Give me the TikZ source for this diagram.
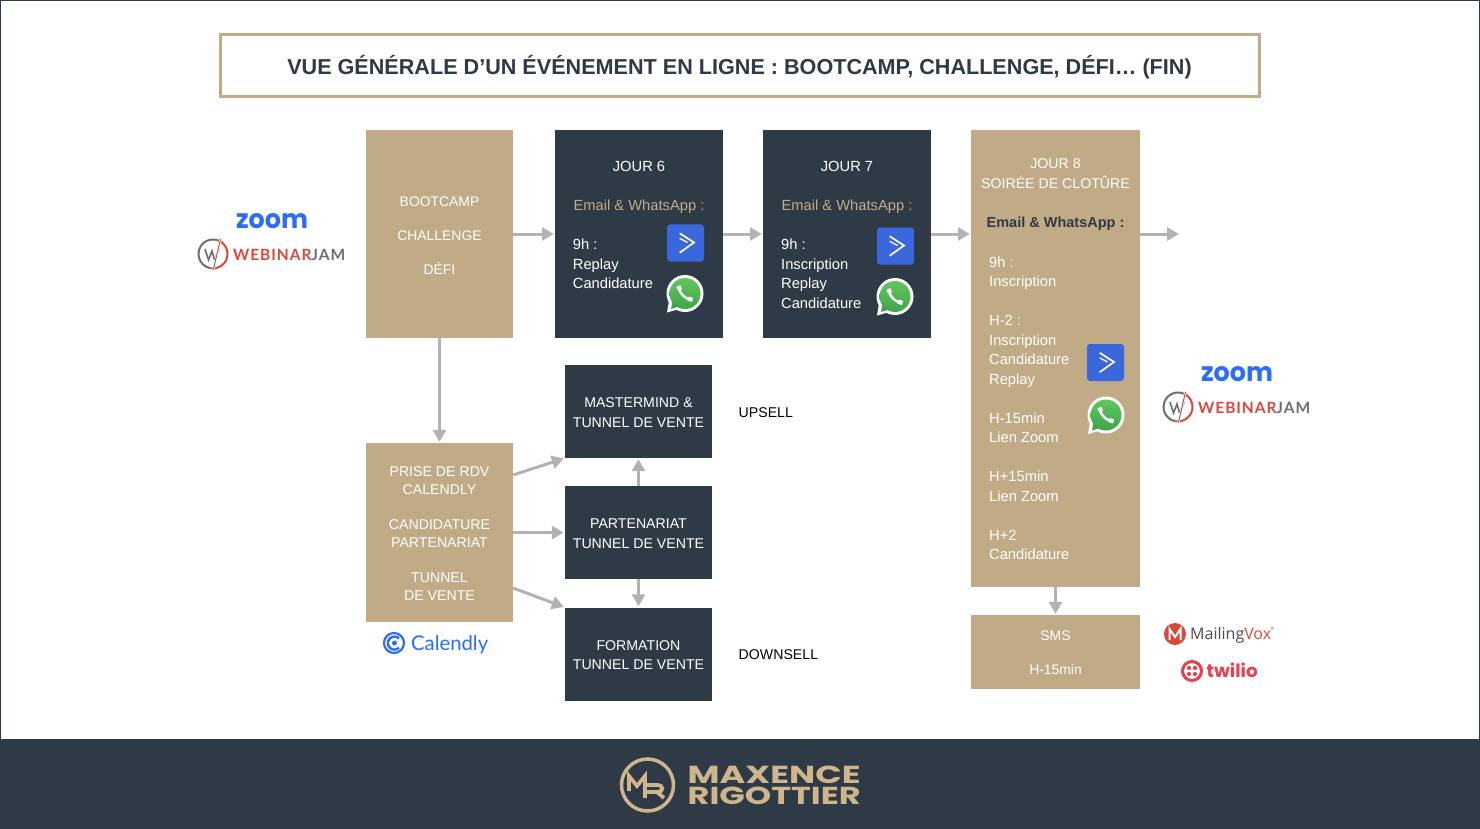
\documentclass[tikz,border=0pt]{standalone}
\usepackage{fontspec}
\setmainfont{Liberation Sans}
\newfontfamily\logofont{Poppins}
\newfontfamily\jamfont[LetterSpace=6]{Lato}
\newfontfamily\calfont{Lato}
\newfontfamily\voxfont{Open Sans}
\usetikzlibrary{arrows.meta}
\definecolor{tan}{HTML}{C1AB86}
\definecolor{footertan}{HTML}{CFB58C}
\definecolor{navy}{HTML}{2E3A46}
\definecolor{flowgrey}{HTML}{B2B2B2}
\definecolor{sendblue}{HTML}{3B67DC}
\definecolor{zoomblue}{HTML}{2D6CF6}
\definecolor{jamred}{HTML}{D8483B}
\definecolor{jamgrey}{HTML}{6B6E72}
\definecolor{twred}{HTML}{E8404F}
\definecolor{whatstop}{HTML}{62C65F}
\definecolor{whatsbot}{HTML}{3FA548}
\tikzset{
  body/.style={font=\fontsize{14.7}{19.5}\selectfont, inner sep=0pt},
  caps/.style={font=\fontsize{14.15}{19.5}\selectfont, inner sep=0pt, text=white, align=center},
  lightbody/.style={body, text=white, align=center},
  leftbody/.style={body, text=white, align=left, anchor=west},
  tanbox/.style={fill=tan, draw=none, inner sep=0pt},
  navybox/.style={fill=navy, draw=none, inner sep=0pt},
  daybox/.style={navybox, minimum width=168pt, minimum height=208pt},
  offerbox/.style={navybox, minimum width=147pt, minimum height=93pt},
  flow/.style={draw=flowgrey, line width=3pt, shorten >=1pt, -{Triangle[length=12pt,width=13pt]}},
  sendicon/.pic={
    \fill[sendblue, rounded corners=3pt] (-18.5,-18.5) rectangle (18.5,18.5);
    \draw[white, line width=1.7pt] (-5.8,-9.7) -- (8.5,-0.5) -- (-5.8,9.7);
    \draw[white, line width=1.3pt] (-5.8,-4.7) -- (2,-0.5);
  },
  whatsicon/.pic={
    \fill[white] (0,0) circle (18.5);
    \fill[white] (-16,7) -- (-18,19) -- (-4,15) -- cycle;
    \shade[top color=whatstop, bottom color=whatsbot] (0,0) circle (15.5);
    \fill[whatsbot] (-12.5,8) -- (-14,15.5) -- (-6,13) -- cycle;
    \draw[white, line width=2.4pt] (-6,-5) .. controls (-5,0) and (0,5) .. (5,6);
    \draw[white, line width=4.2pt] (-6.5,-7.5) -- (-5,-3.5);
    \draw[white, line width=4.2pt] (3,5) -- (7.5,6.5);
  },
  zoomjam/.pic={
    \node[inner sep=0pt, text=zoomblue] (-zoomname) at (59,-32.5) {\resizebox{72pt}{15pt}{\logofont\bfseries zoom}};
    \draw[jamgrey, line width=2pt] (-75:14.5) arc (-75:-260:14.5);
    \draw[jamred, line width=2pt] (-75:14.5) arc (-75:100:14.5);
    \draw[jamgrey, line width=1.6pt] (-8,-5) -- (-4.5,6) -- (-1,-3) -- (1.5,6);
    \draw[jamred, line width=1.6pt] (1.5,6) -- (6,-5);
    \draw[white, line width=2.2pt] (7.5,-15) -- (0.5,15);
    \draw[jamred, line width=1pt] (7.5,-15) -- (4,0);
    \draw[jamgrey, line width=1pt] (4,0) -- (0.5,15);
    \node[inner sep=0pt, anchor=west] (-jamname) at (20,0.7) {\resizebox{112pt}{!}{\jamfont\bfseries\textcolor{jamred}{WEBINAR}\textcolor{jamgrey}{JAM}}};
  }
}

\begin{document}
\begin{tikzpicture}[x=1pt, y=-1pt]
\useasboundingbox (0,0) rectangle (1480,829);
\fill[white] (0,0) rectangle (1480,829);
\draw[navy, line width=1pt] (0.5,0.5) rectangle (1479.5,829);
\fill[navy] (0,739) rectangle (1480,829);

% title
\node[draw=tan, line width=3pt, minimum width=1039pt, minimum height=62pt, inner sep=0pt] (title) at (739.5,66) {};
\node[inner sep=0pt, text=navy, font=\fontsize{21.6}{26}\selectfont\bfseries] (titletext) at (739.5,67)
  {VUE GÉNÉRALE D’UN ÉVÉNEMENT EN LIGNE : BOOTCAMP, CHALLENGE, DÉFI… (FIN)};

% top row
\node[tanbox, minimum width=147pt, minimum height=208pt] (bootcamp) at (439.5,234) {};
\node[caps, font=\fontsize{13.9}{34}\selectfont] (bootcamptext) at (439.5,235.5) {BOOTCAMP\\CHALLENGE\\DÉFI};
\node[daybox] (jour6) at (639,234) {};
\node[daybox] (jour7) at (847,234) {};
\node[tanbox, minimum width=169pt, minimum height=457pt] (jour8) at (1055.5,358.5) {};
\node[tanbox, minimum width=169pt, minimum height=74pt] (sms) at (1055.5,652) {};
\node[caps, font=\fontsize{13.9}{34}\selectfont] (smstext) at (1055.5,653) {SMS\\H-15min};

% day contents
\node[lightbody] (j6head) at (639,166.5) {JOUR 6};
\node[body, text=tan] (j6mail) at (639,206.5) {Email \& WhatsApp :};
\node[leftbody] (j6list) at (572.7,264) {9h :\\Replay\\Candidature};
\pic at (685.5,243) {sendicon};
\pic at (685,293.5) {whatsicon};

\node[lightbody] (j7head) at (847,166.5) {JOUR 7};
\node[body, text=tan] (j7mail) at (847,206.5) {Email \& WhatsApp :};
\node[leftbody] (j7list) at (781,273.5) {9h :\\Inscription\\Replay\\Candidature};
\pic at (895.5,246) {sendicon};
\pic at (895,296.5) {whatsicon};

\node[caps] (j8head) at (1055.5,173.5) {JOUR 8\\SOIRÉE DE CLOTÛRE};
\node[body, text=navy, font=\fontsize{14.5}{19.5}\selectfont\bfseries] (j8mail) at (1055.5,223.5) {Email \& WhatsApp :};
\node[leftbody] (j8list) at (989,408) {9h :\\Inscription\\[19.5pt]H-2 :\\Inscription\\Candidature\\Replay\\[19.5pt]H-15min\\Lien Zoom\\[19.5pt]H+15min\\Lien Zoom\\[19.5pt]H+2\\Candidature};
\pic at (1105.5,362.5) {sendicon};
\pic at (1106,415) {whatsicon};

% lower part
\node[tanbox, minimum width=147pt, minimum height=179pt] (prise) at (439.5,532.5) {};
\node[caps, font=\fontsize{14.15}{17.7}\selectfont] (prisetext) at (439.5,533.6)
  {PRISE DE RDV\\CALENDLY\\[17.7pt]CANDIDATURE\\PARTENARIAT\\[17.7pt]TUNNEL\\DE VENTE};
\node[offerbox] (mastermind) at (638.5,411.5) {};
\node[offerbox] (partenariat) at (638.5,532.5) {};
\node[offerbox] (formation) at (638.5,654) {};
\node[caps] (mastermindtext) at (638.5,412.5) {MASTERMIND \&\\TUNNEL DE VENTE};
\node[caps] (partenariattext) at (638.5,533.5) {PARTENARIAT\\TUNNEL DE VENTE};
\node[caps] (formationtext) at (638.5,655) {FORMATION\\TUNNEL DE VENTE};
\node[caps, text=black, anchor=west] (upsell) at (738.5,412.5) {UPSELL};
\node[caps, text=black, anchor=west] (downsell) at (738.5,654.5) {DOWNSELL};

% connectors
\coordinate (out) at (1180,234);
\draw[flow] (bootcamp) -- (jour6);
\draw[flow] (jour6) -- (jour7);
\draw[flow] (jour7) -- (jour7 -| jour8.west);
\draw[flow] (jour8.east |- out) -- (out);
\draw[flow] (jour8) -- (sms);
\draw[flow] (bootcamp) -- (prise);
\draw[flow] (prise.38) -- (mastermind.south west);
\draw[flow] (prise) -- (partenariat);
\draw[flow] (prise.-37) -- (formation.north west);
\draw[flow] (partenariat) -- (mastermind);
\draw[flow] (partenariat) -- (formation);

% logos
\pic (left) at (213,254) {zoomjam};
\pic (right) at (1178,407) {zoomjam};

\draw[zoomblue, line width=2.2pt] (394,643) circle (10);
\draw[zoomblue, line width=2.4pt] (399,638.5) arc (-45:-315:6.5);
\fill[zoomblue] (394.5,643) circle (2.5);
\node[inner sep=0pt, anchor=west, text=zoomblue] (calendly) at (411,645)
  {\resizebox{77pt}{!}{\calfont Calendly}};

\fill[jamred] (1175,634) circle (11);
\draw[white, line width=2pt] (1169.5,640) -- (1169.5,629) -- (1175,637) -- (1180.5,629) -- (1180.5,640);
\node[inner sep=0pt, anchor=west, text=jamgrey!70!black] (mailing) at (1190,635.5)
  {\fontsize{16}{18}\voxfont Mailing\textcolor{jamred}{Vox}};
\node[inner sep=0pt, text=jamgrey, font=\fontsize{5}{6}\selectfont] (voxmark) at (1272.5,629) {®};

\draw[twred, line width=3pt] (1192,671) circle (9.5);
\foreach \dotx in {-3,3} \foreach \doty in {-3,3}
  \fill[twred] (1192+\dotx,671+\doty) circle (2.1);
\node[inner sep=0pt, anchor=west, text=twred] (twilio) at (1206.5,670.5)
  {\resizebox{51pt}{!}{\logofont\bfseries twilio}};

% footer logo
\draw[footertan, line width=3.5pt] (647.5,785) circle (26);
\draw[footertan, line width=3.8pt, line join=miter] (629,791) -- (629,776) -- (637,786) -- (645,776) -- (645,790);
\draw[footertan, line width=3.8pt] (645,798) -- (645,785) -- (657,785) .. controls (664,785) and (664,792) .. (657,792) -- (647,792);
\draw[footertan, line width=3.8pt] (657,792) -- (664,798);
\node[inner sep=0pt, anchor=west, text=footertan] (maxence) at (687.5,774.5)
  {\resizebox{173pt}{17.5pt}{\logofont\bfseries MAXENCE}};
\node[inner sep=0pt, anchor=west, text=footertan] (rigottier) at (687.5,795.5)
  {\resizebox{173pt}{17.5pt}{\logofont\bfseries RIGOTTIER}};
\end{tikzpicture}
\end{document}
